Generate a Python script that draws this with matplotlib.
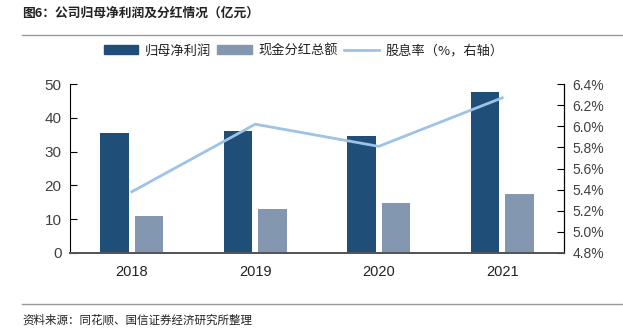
import matplotlib
matplotlib.use("Agg")
import matplotlib.pyplot as plt
import numpy as np
from matplotlib.lines import Line2D

plt.rcParams['font.family'] = ['Noto Sans CJK SC', 'DejaVu Sans']

years = ["2018", "2019", "2020", "2021"]
net_profit = [35.4, 36.2, 34.7, 47.8]      # 归母净利润（亿元）
cash_dividend = [10.9, 13.1, 14.9, 17.5]   # 现金分红总额（亿元）
dividend_yield = [5.38, 6.02, 5.81, 6.27]  # 股息率（%）
left_ticks = [0, 10, 20, 30, 40, 50]
right_ticks = [4.8, 5.0, 5.2, 5.4, 5.6, 5.8, 6.0, 6.2, 6.4]

c_dark = "#1F4E79"
c_light = "#8497B0"
c_line = "#9DC3E6"
c_text = "#404040"
num_font = "Liberation Sans"

fig = plt.figure(figsize=(6.23, 3.35), dpi=100)
ax = fig.add_axes([0.1124, 0.2448, 0.7929, 0.5042])
ax2 = ax.twinx()

x = np.arange(len(years))
w = 0.23
ax.bar(x - 0.14, net_profit, width=w, color=c_dark, zorder=2)
ax.bar(x + 0.14, cash_dividend, width=w, color=c_light, zorder=2)
ax2.plot(x, dividend_yield, color=c_line, lw=2, zorder=3)

ax.set_xlim(-0.5, 3.5)
ax.set_ylim(0, 50)
ax.set_yticks(left_ticks)
ax.set_yticklabels([str(v) for v in left_ticks], family=num_font)
ax2.set_ylim(4.8, 6.4)
ax2.set_yticks(right_ticks)
ax2.set_yticklabels([f"{v:.1f}%" for v in right_ticks], family=num_font)

ax.set_xticks(x)
ax.set_xticklabels(years, family=num_font)
ax.tick_params(axis='x', length=0, pad=9, labelsize=10.5, labelcolor='#222222')
ax.tick_params(axis='y', direction='in', length=5, labelsize=11, labelcolor=c_text, pad=6)
ax2.tick_params(axis='y', direction='in', length=5, labelsize=10, labelcolor=c_text, pad=6)

for a in (ax, ax2):
    a.spines['top'].set_visible(False)
    a.spines['left'].set_color('black')
    a.spines['right'].set_color('black')
    a.spines['bottom'].set_color('#555555')
    a.spines['bottom'].set_linewidth(1.3)
ax2.spines['left'].set_visible(False)

# legend
handles = [
    plt.Rectangle((0, 0), 1, 1, color=c_dark),
    plt.Rectangle((0, 0), 1, 1, color=c_light),
    Line2D([0], [0], color=c_line, lw=2),
]
labels = ["归母净利润", "现金分红总额", "股息率（%，右轴）"]
fig.legend(handles, labels, loc='center', bbox_to_anchor=(0.487, 0.848), ncol=3,
           frameon=False, fontsize=9.5, handlelength=2.6, handleheight=0.7,
           columnspacing=0.5, handletextpad=0.5, labelcolor='#222222')

# title and source
fig.text(22 / 623, 1 - 13 / 335, "图6：公司归母净利润及分红情况（亿元）", fontsize=9.2,
         fontweight='bold', va='center', ha='left', color='#222222')
fig.add_artist(Line2D([22 / 623, 1], [1 - 35 / 335] * 2, color='#999999', lw=1))
fig.add_artist(Line2D([22 / 623, 1], [1 - 304 / 335] * 2, color='#999999', lw=1))
fig.text(22 / 623, 1 - 320 / 335, "资料来源：同花顺、国信证券经济研究所整理", fontsize=8.3,
         va='center', ha='left', color='#222222')

fig.savefig("out.png", dpi=100)
